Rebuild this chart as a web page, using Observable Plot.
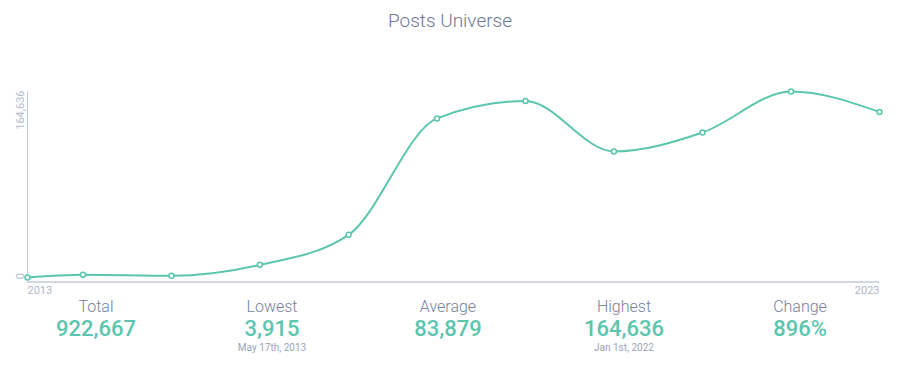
<!DOCTYPE html>
<html>
<head>
<meta charset="utf-8">
<script src="https://cdn.jsdelivr.net/npm/d3@7"></script>
<script src="https://cdn.jsdelivr.net/npm/@observablehq/plot@0.6"></script>
<style>
  html, body { margin: 0; padding: 0; background: #fff; }
  body { width: 900px; height: 368px; position: relative; font-family: Roboto, "Noto Sans", sans-serif; overflow: hidden; }
  #title { height: 42px; line-height: 42px; text-align: center; font-size: 19px; font-weight: 300; color: #6d7895; }
  #chart { position: absolute; top: 40px; left: 0; }
  #chart svg { display: block; }
  #stats { position: absolute; top: 297px; left: 8px; width: 880px; display: flex; }
  .col { width: 176px; text-align: center; }
  .lab { height: 20px; line-height: 20px; font-size: 16px; font-weight: 300; color: #76819d; }
  .val { height: 24px; line-height: 24px; font-size: 22px; font-weight: 500; color: #5bc5ae; }
  .sub { height: 14px; line-height: 14px; font-size: 10px; color: #9aa3b8; }
</style>
</head>
<body>
<div id="title">Posts Universe</div>
<div id="chart"></div>
<div id="stats"></div>
<script>
// ---- data ----
const dates = ["2013-05-17", "2014-01-01", "2015-01-01", "2016-01-01", "2017-01-01", "2018-01-01",
               "2019-01-01", "2020-01-01", "2021-01-01", "2022-01-01", "2023-01-01"];
const values = [3915, 6266, 5350, 14840, 40730, 141400, 156400, 112870, 129260, 164636, 147000];
const xTickLabels = ["2013", "2023"];
const statLabels = ["Total", "Lowest", "Average", "Highest", "Change"];
const statNotes = ["", "May 17th, 2013", "", "Jan 1st, 2022", ""];
const changeText = "896%";

const fmt = d3.format(",");
const data = dates.map((d, i) => ({date: new Date(d), value: values[i]}));
const start = data[0].date, end = data[data.length - 1].date;
const maxV = d3.max(values), minV = d3.min(values);
const total = d3.sum(values);
const avg = Math.round(total / values.length);
const teal = "#5bc5ae";
const tickFill = "#b4bbcd";

const chart = Plot.plot({
  width: 900, height: 258,
  marginLeft: 27, marginRight: 21, marginTop: 51, marginBottom: 16.5,
  x: {type: "utc", domain: [start, end], axis: null},
  y: {domain: [0, maxV], axis: null},
  style: {fontFamily: "Roboto, sans-serif", background: "transparent", overflow: "visible"},
  marks: [
    Plot.ruleY([0], {stroke: "#d3d7e2", strokeWidth: 2}),
    Plot.ruleX([start], {y1: 0, y2: maxV, stroke: "#c6cbd9", strokeWidth: 1}),
    Plot.text([maxV], {x: () => start, y: d => d, text: d => fmt(d), rotate: -90, textAnchor: "end",
      dx: -7, dy: -1, fontSize: 11, fill: tickFill}),
    Plot.text([0], {x: () => start, y: d => d, text: d => fmt(d), rotate: -90, textAnchor: "end",
      dx: -7, dy: -9, fontSize: 11, fill: tickFill}),
    Plot.text([xTickLabels[0]], {x: () => start, y: () => 0, text: d => d,
      textAnchor: "start", dy: 8.5, fontSize: 11, fill: "#aeb6c9"}),
    Plot.text([xTickLabels[1]], {x: () => end, y: () => 0, text: d => d,
      textAnchor: "end", dy: 8.5, fontSize: 11, fill: "#aeb6c9"}),
    Plot.line(data, {x: "date", y: "value", curve: "monotone-x", stroke: teal, strokeWidth: 2}),
    Plot.dot(data, {x: "date", y: "value", r: 2.5, fill: "white", stroke: teal, strokeWidth: 1.5})
  ]
});
document.getElementById("chart").appendChild(chart);

const statValues = [fmt(total), fmt(minV), fmt(avg), fmt(maxV), changeText];
const stats = document.getElementById("stats");
statLabels.forEach((l, i) => {
  const c = document.createElement("div");
  c.className = "col";
  c.innerHTML = `<div class="lab">${l}</div><div class="val">${statValues[i]}</div><div class="sub">${statNotes[i]}</div>`;
  stats.appendChild(c);
});
</script>
</body>
</html>
